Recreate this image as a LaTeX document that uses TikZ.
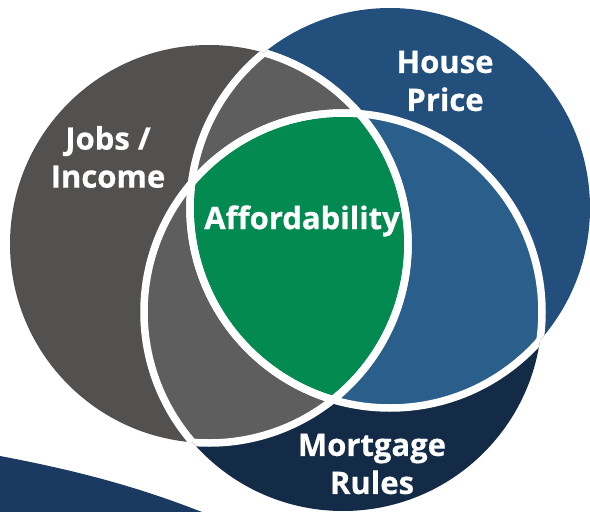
\documentclass[tikz,border=0pt]{standalone}
\usepackage{fontspec}
\setmainfont{Open Sans}[BoldFeatures={FakeBold=0.6}]
\definecolor{dgray}{HTML}{525150}
\definecolor{lgray}{HTML}{5E5E5E}
\definecolor{dblue}{HTML}{234F7C}
\definecolor{lblue}{HTML}{2A5F8C}
\definecolor{mnavy}{HTML}{142B47}
\definecolor{mgreen}{HTML}{038A50}
\definecolor{swoosh}{HTML}{1B3A62}
\newcommand{\vennG}{(209,244) circle[radius=199]}
\newcommand{\vennB}{(390,208) circle[radius=200]}
\newcommand{\vennM}{(343,312) circle[radius=199]}
\tikzset{
  sep/.style={draw=white, line width=7.5pt},
  lbl/.style={text=white, font=\bfseries\fontsize{31}{38}\selectfont, align=center, inner sep=0pt},
}
\begin{document}
\begin{tikzpicture}[x=1pt,y=-1pt]
\useasboundingbox (0,0) rectangle (590,512);
\clip (0,0) rectangle (590,512);
% swoosh
\fill[swoosh] (0,456) .. controls (90,473) and (150,491) .. (212,516) -- (0,516) -- cycle;
% single sets
\fill[dgray] \vennG;
\fill[dblue] \vennB;
\fill[mnavy] \vennM;
% pairwise overlaps
\begin{scope}\clip \vennG; \fill[lgray] \vennB; \end{scope}
\begin{scope}\clip \vennG; \fill[lgray] \vennM; \end{scope}
\begin{scope}\clip \vennB; \fill[lblue] \vennM; \end{scope}
% triple overlap
\begin{scope}\clip \vennG; \clip \vennB; \fill[mgreen] \vennM; \end{scope}
% white separators, only inside other sets
\begin{scope}\clip \vennB; \draw[sep] \vennG; \draw[sep] \vennM; \end{scope}
\begin{scope}\clip \vennG; \draw[sep] \vennB; \draw[sep] \vennM; \end{scope}
\begin{scope}\clip \vennM; \draw[sep] \vennG; \draw[sep] \vennB; \end{scope}
% labels
\node[lbl] (jobs) at (108,157) {Jobs /\\Income};
\node[lbl] (house) at (445,81) {House\\Price};
\node[lbl] (afford) at (302,221) {Affordability};
\node[lbl] (mort) at (372,464) {Mortgage\\Rules};
\end{tikzpicture}
\end{document}
